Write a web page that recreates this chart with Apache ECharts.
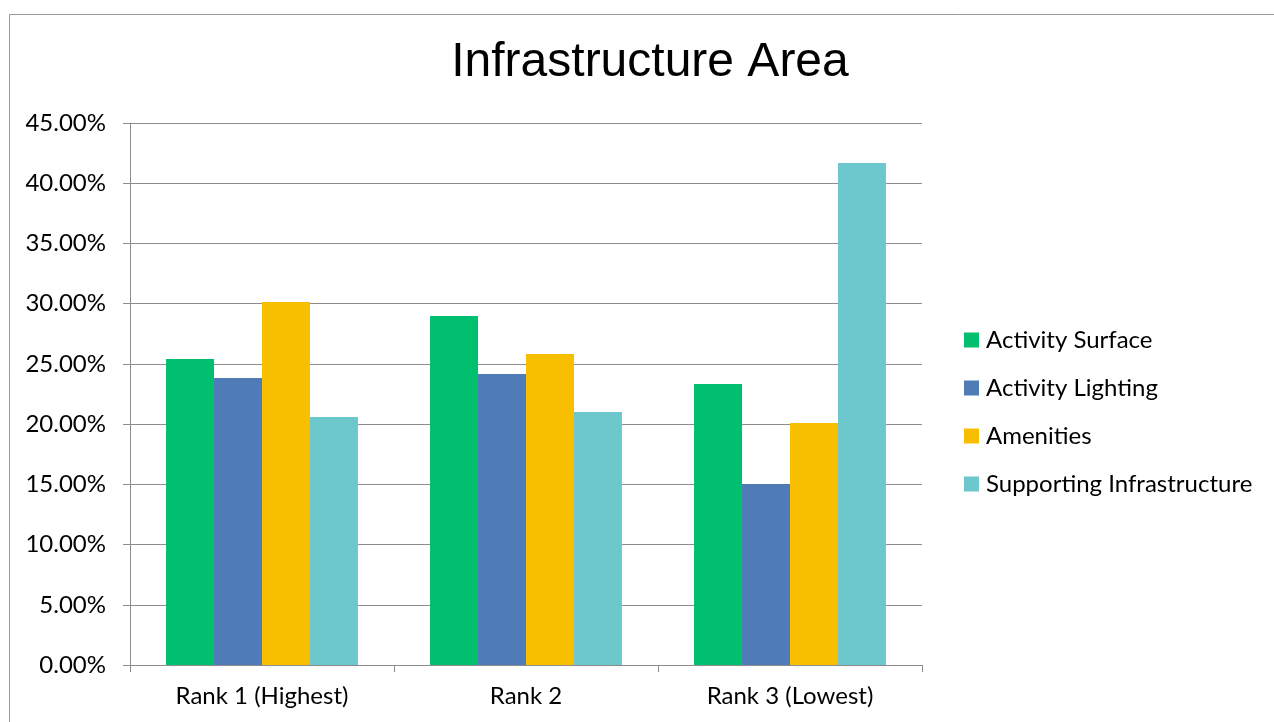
<!DOCTYPE html>
<html>
<head>
<meta charset="utf-8">
<script src="https://cdn.jsdelivr.net/npm/echarts@6/dist/echarts.min.js"></script>
<style>
html,body{margin:0;padding:0;background:#fff;}
#chart{width:1274px;height:722px;}
</style>
</head>
<body>
<div id="chart"></div>
<script>
const categories = ['Rank 1 (Highest)', 'Rank 2', 'Rank 3 (Lowest)'];
const seriesNames = ['Activity Surface', 'Activity Lighting', 'Amenities', 'Supporting Infrastructure'];
const activitySurface = [25.41, 28.98, 23.33];
const activityLighting = [23.83, 24.16, 15.03];
const amenities = [30.14, 25.82, 20.09];
const supportingInfrastructure = [20.59, 21.01, 41.68];
const colors = ['#00BF6F', '#4F7CB6', '#F8BE00', '#6CC8CC'];
const seriesData = [activitySurface, activityLighting, amenities, supportingInfrastructure];

const chart = echarts.init(document.getElementById('chart'), null, {renderer: 'canvas'});
const labelFont = 'Lato, "Open Sans", sans-serif';
chart.setOption({
  animation: false,
  backgroundColor: '#fff',
  title: {
    text: 'Infrastructure Area',
    left: 645, top: 34, textAlign: 'center',
    textStyle: {fontFamily: '"Liberation Sans", Arial, sans-serif', fontSize: 48, fontWeight: 'normal', color: '#000'}
  },
  graphic: [{
    type: 'rect', shape: {x: 9.5, y: 14.5, width: 1300, height: 800},
    style: {fill: null, stroke: '#9a9a9a', lineWidth: 1}, silent: true, z: -1
  }],
  legend: {
    orient: 'vertical', left: 959, top: 323,
    itemWidth: 15, itemHeight: 15, itemGap: 24,
    icon: 'rect',
    data: seriesNames,
    textStyle: {fontFamily: labelFont, fontSize: 24, color: '#000', lineHeight: 24, padding: [0,0,0,2]}
  },
  grid: {left: 130, right: 352, top: 123, bottom: 57, containLabel: false},
  xAxis: {
    type: 'category', data: categories,
    axisLine: {lineStyle: {color: '#8c8c8c', width: 1}},
    axisTick: {show: true, length: 7, alignWithLabel: false, lineStyle: {color: '#8c8c8c'}},
    axisLabel: {fontFamily: labelFont, fontSize: 24, color: '#000', margin: 19}
  },
  yAxis: {
    type: 'value', min: 0, max: 45, interval: 5,
    axisLine: {show: true, lineStyle: {color: '#8c8c8c', width: 1}},
    axisTick: {show: true, length: 7, lineStyle: {color: '#8c8c8c'}},
    splitLine: {lineStyle: {color: '#8c8c8c', width: 1}},
    axisLabel: {fontFamily: labelFont, fontSize: 24, color: '#000', margin: 24,
      formatter: v => v.toFixed(2) + '%'}
  },
  series: seriesNames.map((n, i) => ({
    name: n, type: 'bar', data: seriesData[i],
    itemStyle: {color: colors[i]},
    barGap: '0%', barCategoryGap: '27.3%'
  }))
});
</script>
</body>
</html>
